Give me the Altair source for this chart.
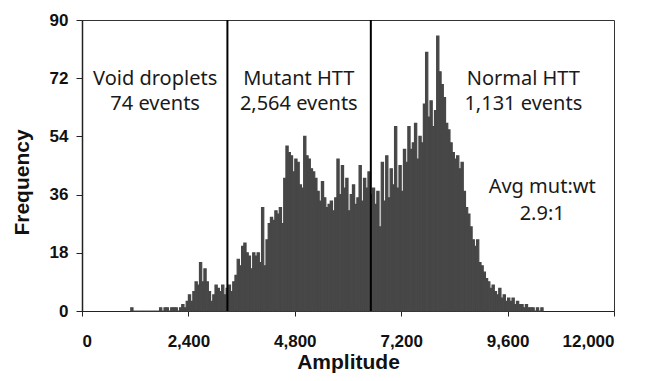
import altair as alt
import pandas as pd

# ---- data ----
BIN_WIDTH = 50          # amplitude units per histogram bin
FIRST_BIN = 1100        # amplitude where the first listed bin starts

# frequency per bin, from 1100 upward in steps of BIN_WIDTH
void_counts = [
    1, 0, 0, 0, 0, 0, 0, 0, 0, 0, 0, 0, 0,      # 1100-1700
    1, 0, 1, 1, 0, 1, 1, 1, 0, 1, 2, 1, 3,      # 1750-2350
    5, 3, 6, 9, 8, 15, 9, 13, 9, 6, 3, 5, 8,    # 2400-3000
    7, 6, 8, 5, 7,                              # 3050-3250
]
mutant_counts = [
    8, 6, 9, 11, 16, 14, 20, 21, 18, 17,        # 3300-3750
    13, 18, 17, 18, 15, 32, 14, 22, 27, 29,     # 3800-4250
    28, 31, 30, 32, 27, 41, 51, 49, 48, 43,     # 4300-4750
    47, 46, 39, 38, 54, 48, 47, 44, 43, 41,     # 4800-5250
    37, 34, 40, 35, 32, 33, 34, 31, 35, 47,     # 5300-5750
    36, 45, 38, 41, 31, 36, 39, 33, 35, 45,     # 5800-6250
    34, 41, 38, 43, 36,                         # 6300-6500
]
normal_counts = [
    38, 33, 37, 26, 46, 34, 48, 35, 44, 39,     # 6550-7000
    57, 38, 45, 37, 50, 46, 57, 50, 52, 58,     # 7050-7500
    47, 54, 52, 64, 80, 60, 65, 57, 62, 85,     # 7550-8000
    74, 70, 66, 58, 56, 52, 49, 47, 48, 44,     # 8050-8500
    46, 37, 32, 30, 26, 22, 20, 22, 15, 14,     # 8550-9000
    12, 10, 9, 7, 8, 6, 5, 7, 4, 5,             # 9050-9500
    3, 4, 3, 4, 2, 3, 2, 2, 1, 2,               # 9550-10000
    1, 1, 1, 0, 1, 0, 1,                        # 10050-10350
]

gate_amplitudes = [3280, 6515]

label_lines = ["Void droplets", "74 events", "Mutant HTT", "2,564 events",
               "Normal HTT", "1,131 events", "Avg mut:wt", "2.9:1"]
label_amp = [1650, 1650, 4890, 4890, 9955, 9955, 10380, 10380]
label_freq = [71.8, 64.0, 71.8, 64.0, 71.8, 64.0, 38.2, 30.0]

y_ticks = [0, 18, 36, 54, 72, 90]
x_ticks = [0, 2400, 4800, 7200, 9600, 12000]

# ---- tables ----
counts = void_counts + mutant_counts + normal_counts
hist = pd.DataFrame({
    "start": [FIRST_BIN + i * BIN_WIDTH for i in range(len(counts))],
    "count": counts,
})
hist["end"] = hist["start"] + BIN_WIDTH
gates = pd.DataFrame({"amp": gate_amplitudes})
labels = pd.DataFrame({"text": label_lines, "amp": label_amp, "freq": label_freq})

AX_FONT = "Liberation Sans"
BAR = "#474747"
x_scale = alt.Scale(domain=[0, 12000], nice=False, zero=True)
y_scale = alt.Scale(domain=[0, 90], nice=False)

bars = alt.Chart(hist).mark_rect(color=BAR, stroke=BAR, strokeWidth=1.2).encode(
    x=alt.X("start:Q", scale=x_scale,
            axis=alt.Axis(title="Amplitude", values=x_ticks, format=",d", grid=False,
                          labelFont=AX_FONT, labelFontSize=17, labelFontWeight="bold",
                          labelColor="#111", labelPadding=17, tickSize=5,
                          tickColor="#222", domainColor="#222",
                          titleFont=AX_FONT, titleFontSize=21, titleFontWeight="bold",
                          titleColor="#111", titleY=57, titleBaseline="alphabetic")),
    x2="end:Q",
    y=alt.Y("count:Q", scale=y_scale,
            axis=alt.Axis(title="Frequency", values=y_ticks, grid=False,
                          labelFont=AX_FONT, labelFontSize=17, labelFontWeight="bold",
                          labelColor="#111", labelPadding=8, tickSize=6,
                          tickColor="#222", domainColor="#222", domainWidth=1.5,
                          titleFont=AX_FONT, titleFontSize=21, titleFontWeight="bold",
                          titleColor="#111", titleX=-50, titleY=162)),
    y2=alt.datum(0),
)

rules = alt.Chart(gates).mark_rule(color="#000", strokeWidth=2).encode(
    x=alt.X("amp:Q", scale=x_scale)
)

texts = alt.Chart(labels).mark_text(
    font="Noto Sans", fontSize=20, color="#1a1a1a", align="center", baseline="middle"
).encode(
    x=alt.X("amp:Q", scale=x_scale),
    y=alt.Y("freq:Q", scale=y_scale),
    text="text:N",
)

chart = alt.layer(bars, rules, texts).properties(
    width=532, height=291,
    autosize=alt.AutoSizeParams(type="none"),
    padding={"left": 74, "top": 12, "right": 23, "bottom": 62},
    background="white",
).configure_view(stroke="#333", strokeWidth=1)

chart.save("out.html", embed_options={"renderer": "svg", "actions": False})
